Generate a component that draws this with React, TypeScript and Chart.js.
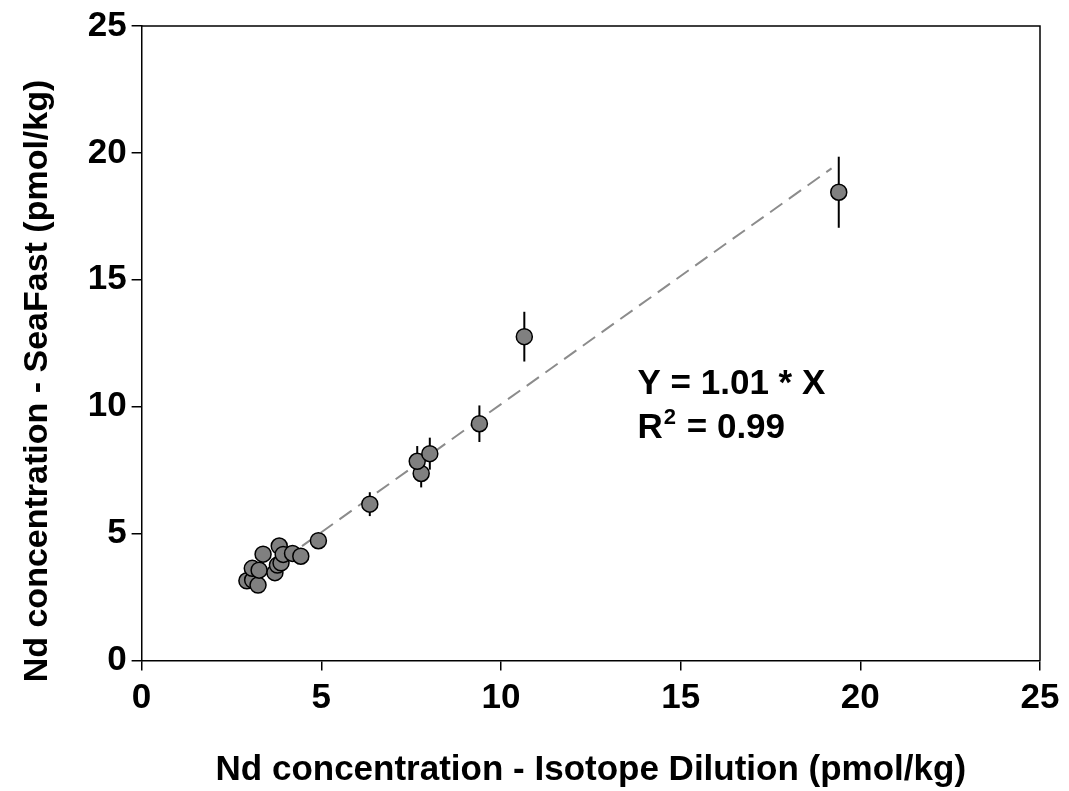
import React, { useEffect, useRef } from "react";
import { Chart, registerables } from "chart.js";

Chart.register(...registerables);

// Measured data (pmol/kg)
const isotopeDilution = [2.93, 3.09, 3.24, 3.08, 3.27, 3.38, 3.71, 3.78, 3.88, 3.83, 3.94, 4.20, 4.43, 4.92, 6.35, 7.78, 7.67, 8.02, 9.40, 10.65, 19.40];
const seaFast = [3.14, 3.17, 2.97, 3.63, 3.56, 4.19, 3.46, 3.76, 3.85, 4.51, 4.18, 4.22, 4.11, 4.72, 6.16, 7.37, 7.85, 8.15, 9.33, 12.76, 18.45];
const seaFastErr = [0.2, 0.2, 0.2, 0.2, 0.2, 0.25, 0.2, 0.2, 0.2, 0.25, 0.25, 0.25, 0.25, 0.3, 0.47, 0.55, 0.6, 0.63, 0.72, 0.98, 1.4];

// Regression line Y = 1.01 * X
const fitX = [2.9, 19.2];
const fitY = [2.93, 19.39];

const axisTicks = [0, 5, 10, 15, 20, 25];
const xTitle = "Nd concentration - Isotope Dilution (pmol/kg)";
const yTitle = "Nd concentration - SeaFast (pmol/kg)";
const eqLine1 = "Y = 1.01 * X";
const eqLine2Base = "R";
const eqLine2Sup = "2";
const eqLine2Rest = " = 0.99";

const FONT = "'Liberation Sans', Arial, sans-serif";
const FS = 35;

export default function App() {
  const ref = useRef<HTMLCanvasElement | null>(null);

  useEffect(() => {
    if (!ref.current) return;

    const errorBars = {
      id: "errorBars",
      beforeDatasetsDraw(chart: any) {
        const { ctx, scales } = chart;
        const xs = scales.x;
        const ys = scales.y;
        ctx.save();
        ctx.strokeStyle = "#000";
        ctx.lineWidth = 2;
        isotopeDilution.forEach((xv, i) => {
          const px = xs.getPixelForValue(xv);
          ctx.beginPath();
          ctx.moveTo(px, ys.getPixelForValue(seaFast[i] - seaFastErr[i]));
          ctx.lineTo(px, ys.getPixelForValue(seaFast[i] + seaFastErr[i]));
          ctx.stroke();
        });
        ctx.restore();
      },
    };

    const frame = {
      id: "frame",
      afterDraw(chart: any) {
        const { ctx, chartArea: a, scales } = chart;
        ctx.save();
        ctx.strokeStyle = "#000";
        ctx.lineWidth = 1.5;
        ctx.beginPath();
        ctx.moveTo(a.left, a.top);
        ctx.lineTo(a.right, a.top);
        ctx.lineTo(a.right, a.bottom);
        ctx.stroke();
        // y-axis title
        ctx.fillStyle = "#000";
        ctx.save();
        ctx.translate(38, 381);
        ctx.rotate(-Math.PI / 2);
        ctx.font = `bold 34px ${FONT}`;
        ctx.textAlign = "center";
        ctx.textBaseline = "middle";
        ctx.fillText(yTitle, 0, 0);
        ctx.restore();
        // annotation text
        ctx.font = `bold ${FS}px ${FONT}`;
        ctx.textBaseline = "alphabetic";
        ctx.textAlign = "left";
        const tx = scales.x.getPixelForValue(13.8);
        const ty1 = scales.y.getPixelForValue(10.5);
        const ty2 = scales.y.getPixelForValue(8.75);
        ctx.fillText(eqLine1, tx, ty1);
        ctx.fillText(eqLine2Base, tx, ty2);
        const wR = ctx.measureText(eqLine2Base).width;
        ctx.font = `bold 22px ${FONT}`;
        ctx.fillText(eqLine2Sup, tx + wR + 1, ty2 - 14);
        const wS = ctx.measureText(eqLine2Sup).width;
        ctx.font = `bold ${FS}px ${FONT}`;
        ctx.fillText(eqLine2Rest, tx + wR + wS + 2, ty2);
        ctx.restore();
      },
    };

    const chart = new Chart(ref.current, {
      type: "scatter",
      data: {
        datasets: [
          {
            type: "scatter",
            data: isotopeDilution.map((x, i) => ({ x, y: seaFast[i] })),
            backgroundColor: "#808080",
            borderColor: "#000",
            borderWidth: 1.5,
            pointRadius: 8,
            order: 1,
          },
          {
            type: "line",
            data: fitX.map((x, i) => ({ x, y: fitY[i] })),
            borderColor: "#8c8c8c",
            borderWidth: 2,
            borderDash: [15, 8],
            pointRadius: 0,
            fill: false,
            order: 2,
          },
        ],
      } as any,
      options: {
        animation: false,
        responsive: true,
        maintainAspectRatio: false,
        layout: { padding: { top: 25, right: 29, left: 0, bottom: 0 } },
        plugins: { legend: { display: false }, tooltip: { enabled: false } },
        scales: {
          x: {
            type: "linear",
            min: 0,
            max: 25,
            afterBuildTicks: (s: any) => {
              s.ticks = axisTicks.map((v) => ({ value: v }));
            },
            afterFit: (s: any) => {
              s.height = 130.5;
            },
            ticks: {
              color: "#000",
              font: { family: FONT, size: FS, weight: "bold" },
              padding: 7,
              maxRotation: 0,
            },
            grid: {
              display: true,
              drawOnChartArea: false,
              drawTicks: true,
              tickLength: 10,
              color: "#000",
              lineWidth: 1.5,
            },
            border: { display: true, color: "#000", width: 1.5 },
            title: {
              display: true,
              text: xTitle,
              color: "#000",
              font: { family: FONT, size: FS, weight: "bold" },
              padding: { top: 0, bottom: 0 },
            },
          },
          y: {
            type: "linear",
            min: 0,
            max: 25,
            afterBuildTicks: (s: any) => {
              s.ticks = axisTicks.map((v) => ({ value: v }));
            },
            afterFit: (s: any) => {
              s.width = 141.6;
            },
            ticks: {
              color: "#000",
              font: { family: FONT, size: FS, weight: "bold" },
              padding: 5,
            },
            grid: {
              display: true,
              drawOnChartArea: false,
              drawTicks: true,
              tickLength: 10,
              color: "#000",
              lineWidth: 1.5,
            },
            border: { display: true, color: "#000", width: 1.5 },
            title: { display: false },
          },
        },
      } as any,
      plugins: [errorBars, frame],
    });

    return () => chart.destroy();
  }, []);

  return (
    <div style={{ position: "absolute", left: 0, top: 0, width: 1069, height: 791, background: "#fff" }}>
      <canvas ref={ref} />
    </div>
  );
}
